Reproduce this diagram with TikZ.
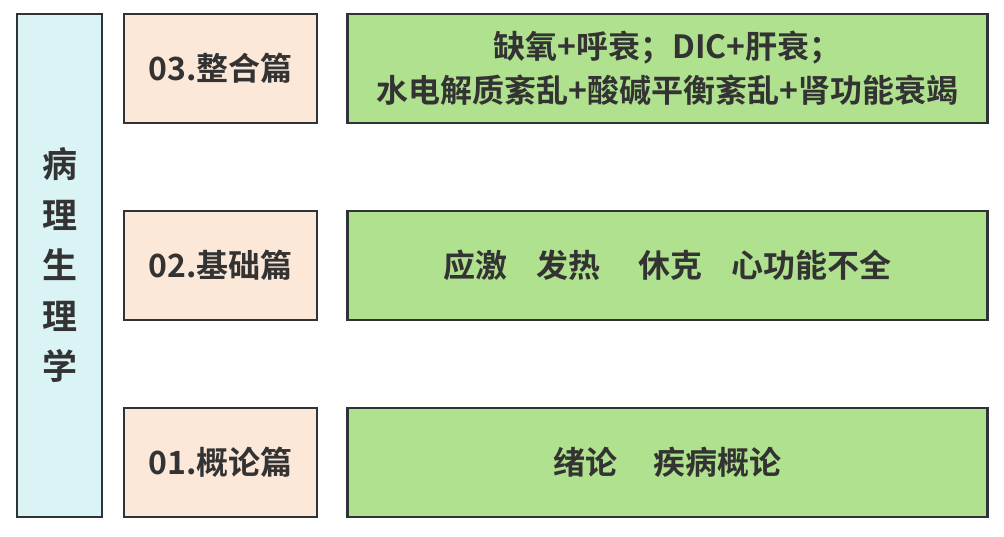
\documentclass[tikz,border=0pt]{standalone}
\usepackage{fontspec}
\setmainfont{Noto Sans CJK SC}[BoldFont={* Bold}]
\usetikzlibrary{positioning}
\definecolor{inkdark}{HTML}{2F3237}
\definecolor{textdark}{HTML}{333333}
\definecolor{fillcyan}{HTML}{DAF3F5}
\definecolor{fillpeach}{HTML}{FCE8D9}
\definecolor{fillgreen}{HTML}{B0E18E}
\tikzset{
  boxbase/.style={draw=inkdark, line width=2.4pt, inner sep=0pt,
    text=textdark, font=\fontsize{32}{44}\selectfont\bfseries, align=center},
  titlebox/.style={boxbase, fill=fillcyan, minimum width=85pt, minimum height=503pt},
  partbox/.style={boxbase, fill=fillpeach, minimum width=193pt, minimum height=109pt},
  topicbox/.style={boxbase, fill=fillgreen, minimum width=640pt, minimum height=109pt}
}

\begin{document}
\begin{tikzpicture}[x=1pt, y=-1pt]
  \useasboundingbox (0,0) rectangle (1004,537);
  \node[titlebox, font=\fontsize{35}{50.5}\selectfont\bfseries] (title) at (59.5,265.5)
    {病\\理\\生\\理\\学};
  \foreach \name/\lab/\y in {p3/03.整合篇/68.5, p2/02.基础篇/265.5, p1/01.概论篇/462.5}{%
    \node[partbox] (\name) at (220.5,\y) {\lab};}
  \node[topicbox, right=28pt of p3] (t3)
    {缺氧+呼衰；DIC+肝衰；\\水电解质紊乱+酸碱平衡紊乱+肾功能衰竭};
  \node[topicbox, right=28pt of p2] (t2)
    {应激\hspace{0.9em}发热\hspace{1.2em}休克\hspace{0.9em}心功能不全};
  \node[topicbox, right=28pt of p1] (t1)
    {绪论\hspace{1.15em}疾病概论};
\end{tikzpicture}
\end{document}
